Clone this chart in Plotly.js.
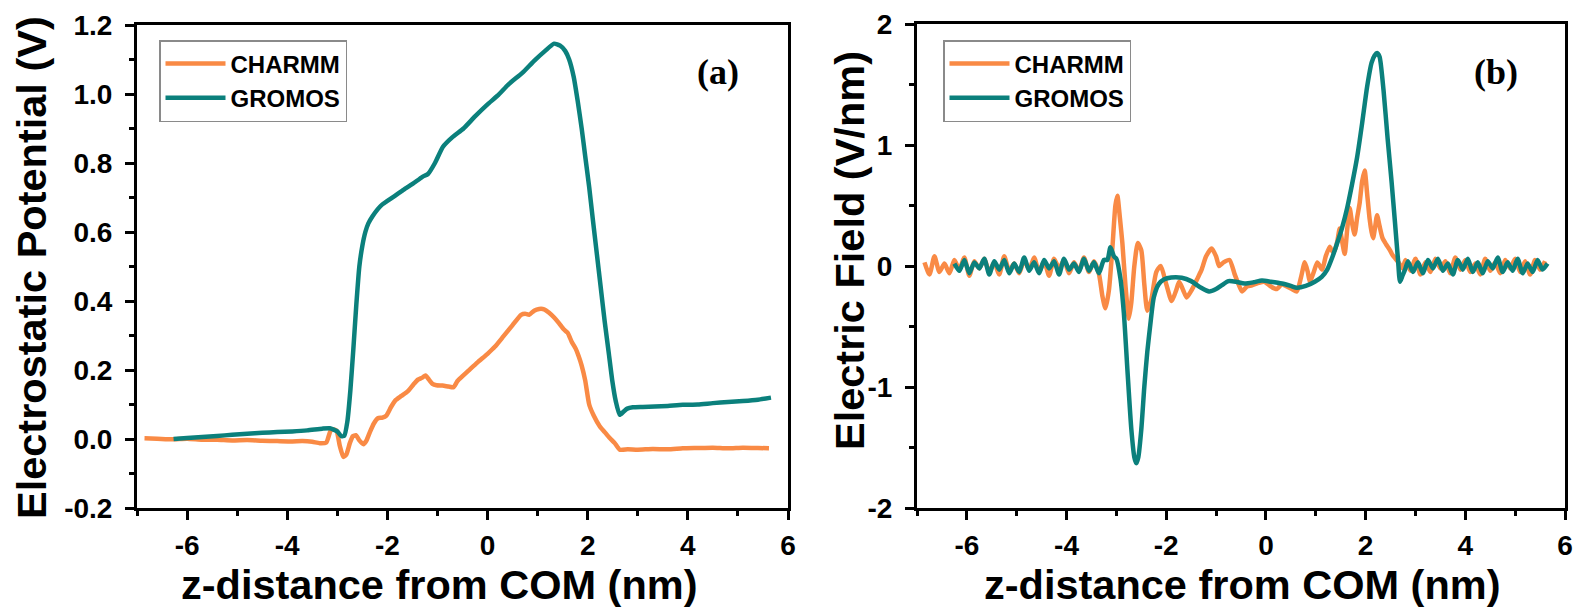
<!DOCTYPE html>
<html>
<head>
<meta charset="utf-8">
<script src="https://cdn.plot.ly/plotly-3.0.1.min.js"></script>
<style>html,body{margin:0;padding:0;background:#fff;}#chart{width:1578px;height:609px;}</style>
</head>
<body>
<div id="chart"></div>
<script>
// ---------- Panel (a): electrostatic potential ----------
const potCharmmX = [-6.85,-6.6,-6.3,-6.0,-5.7,-5.4,-5.1,-4.8,-4.5,-4.2,-3.9,-3.7,-3.5,-3.35,-3.22,-3.12,-3.02,-2.95,-2.88,-2.82,-2.75,-2.69,-2.63,-2.56,-2.48,-2.42,-2.35,-2.27,-2.19,-2.1,-2.02,-1.93,-1.84,-1.72,-1.59,-1.48,-1.39,-1.3,-1.24,-1.17,-1.1,-1.02,-0.9,-0.78,-0.68,-0.6,-0.5,-0.38,-0.2,0,0.15,0.32,0.5,0.67,0.75,0.83,0.93,1.03,1.13,1.23,1.33,1.43,1.52,1.6,1.68,1.76,1.82,1.88,1.95,2.03,2.12,2.24,2.34,2.44,2.54,2.64,2.8,3.0,3.3,3.6,3.9,4.2,4.5,4.8,5.1,5.4,5.62];
const potCharmmY = [0.002,0.001,-0.001,0.001,-0.002,-0.002,-0.004,-0.003,-0.005,-0.006,-0.007,-0.006,-0.008,-0.012,-0.010,0.028,0.025,-0.02,-0.052,-0.045,-0.012,0.008,0.011,-0.004,-0.015,-0.005,0.020,0.045,0.060,0.062,0.068,0.092,0.112,0.125,0.139,0.158,0.172,0.178,0.184,0.172,0.160,0.156,0.155,0.152,0.150,0.168,0.182,0.198,0.222,0.247,0.268,0.298,0.330,0.360,0.363,0.360,0.372,0.377,0.376,0.366,0.352,0.335,0.318,0.308,0.282,0.262,0.240,0.213,0.170,0.100,0.068,0.037,0.020,0.003,-0.012,-0.031,-0.030,-0.031,-0.029,-0.030,-0.027,-0.026,-0.025,-0.027,-0.025,-0.026,-0.027];
const potGromosX = [-6.27,-6.0,-5.7,-5.4,-5.1,-4.8,-4.5,-4.2,-3.9,-3.6,-3.3,-3.15,-3.0,-2.92,-2.86,-2.8,-2.74,-2.68,-2.62,-2.56,-2.5,-2.44,-2.38,-2.3,-2.2,-2.1,-2.0,-1.85,-1.7,-1.49,-1.3,-1.19,-1.05,-0.89,-0.7,-0.48,-0.25,0,0.2,0.42,0.7,0.93,1.15,1.33,1.45,1.55,1.63,1.72,1.8,1.88,1.95,2.03,2.1,2.18,2.26,2.34,2.42,2.49,2.56,2.64,2.72,2.79,2.9,3.1,3.34,3.6,3.9,4.2,4.5,4.8,5.1,5.4,5.66];
const potGromosY = [0.0,0.003,0.006,0.009,0.012,0.015,0.018,0.02,0.022,0.025,0.03,0.031,0.022,0.008,0.01,0.05,0.14,0.26,0.39,0.50,0.56,0.60,0.625,0.645,0.665,0.68,0.69,0.705,0.72,0.74,0.76,0.768,0.80,0.847,0.875,0.90,0.935,0.97,0.995,1.028,1.062,1.096,1.125,1.146,1.14,1.125,1.10,1.05,0.98,0.90,0.82,0.73,0.64,0.54,0.44,0.34,0.25,0.17,0.11,0.07,0.08,0.088,0.092,0.093,0.094,0.096,0.099,0.10,0.104,0.107,0.110,0.114,0.12];

// ---------- Panel (b): electric field ----------
const fieldCharmmX = [-6.85,-6.75,-6.65,-6.55,-6.45,-6.35,-6.25,-6.15,-6.05,-5.95,-5.85,-5.75,-5.65,-5.55,-5.45,-5.35,-5.25,-5.15,-5.05,-4.95,-4.85,-4.75,-4.65,-4.55,-4.45,-4.35,-4.25,-4.15,-4.05,-3.95,-3.85,-3.75,-3.65,-3.55,-3.45,
  -3.35,-3.28,-3.22,-3.15,-3.08,-3.02,-2.98,-2.93,-2.88,-2.82,-2.75,-2.7,-2.64,-2.57,-2.5,-2.44,-2.38,-2.3,-2.2,-2.11,-2.0,-1.89,-1.8,-1.74,-1.66,-1.59,-1.52,-1.44,-1.37,-1.29,-1.2,-1.09,-1.0,-0.94,-0.85,-0.73,-0.63,-0.55,-0.48,-0.38,-0.28,-0.15,-0.03,0.1,0.22,0.32,0.42,0.52,0.62,0.7,0.78,0.84,0.88,0.96,1.03,1.08,1.13,1.2,1.28,1.33,1.38,1.43,1.48,1.53,1.58,1.63,1.68,1.73,1.78,1.83,1.88,1.93,1.98,2.03,2.08,2.12,2.15,2.19,2.23,2.28,2.34,2.41,2.49,2.54,2.59,2.66,2.74,
  2.8,2.9,3.0,3.1,3.2,3.3,3.4,3.5,3.6,3.7,3.8,3.9,4.0,4.1,4.2,4.3,4.4,4.5,4.6,4.7,4.8,4.9,5.0,5.1,5.2,5.3,5.4,5.5,5.6];
const fieldCharmmY = [0.03,-0.07,0.08,-0.05,0.02,-0.06,0.05,-0.03,0.07,-0.08,0.04,-0.02,0.06,-0.05,0.03,-0.07,0.08,-0.04,0.02,-0.06,0.05,-0.03,0.07,-0.05,0.04,-0.08,0.06,-0.02,0.05,-0.06,0.03,-0.04,0.07,-0.05,0.04,
  -0.065,-0.25,-0.35,-0.2,0.15,0.5,0.58,0.4,0.19,-0.15,-0.435,-0.3,0.0,0.19,0.13,-0.15,-0.37,-0.28,-0.05,0.0,-0.15,-0.29,-0.2,-0.13,-0.2,-0.26,-0.22,-0.16,-0.1,-0.03,0.08,0.145,0.08,0.0,0.03,0.05,-0.065,-0.15,-0.21,-0.17,-0.16,-0.14,-0.13,-0.17,-0.19,-0.15,-0.17,-0.19,-0.21,-0.1,0.03,-0.05,-0.13,-0.05,0.03,0.0,-0.03,0.08,0.16,0.12,0.13,0.2,0.31,0.2,0.1,0.3,0.48,0.35,0.26,0.4,0.52,0.7,0.79,0.6,0.39,0.28,0.23,0.32,0.42,0.33,0.23,0.18,0.13,0.09,0.065,0.03,-0.02,
  0.05,-0.04,0.06,-0.07,0.03,-0.05,0.06,-0.02,0.04,-0.06,0.07,-0.03,0.05,-0.05,0.02,-0.07,0.06,-0.04,0.03,-0.06,0.05,-0.02,0.06,-0.05,0.04,-0.07,0.05,-0.03,0.04];
const fieldGromosX = [-6.25,-6.15,-6.05,-5.95,-5.85,-5.75,-5.65,-5.55,-5.45,-5.35,-5.25,-5.15,-5.05,-4.95,-4.85,-4.75,-4.65,-4.55,-4.45,-4.35,-4.25,-4.15,-4.05,-3.95,-3.85,-3.75,-3.65,-3.55,-3.45,-3.35,-3.25,
  -3.18,-3.12,-3.05,-3.0,-2.92,-2.85,-2.78,-2.7,-2.64,-2.6,-2.56,-2.5,-2.44,-2.38,-2.31,-2.25,-2.15,-2.04,-1.9,-1.69,-1.5,-1.3,-1.14,-1.0,-0.89,-0.75,-0.6,-0.43,-0.25,-0.08,0.1,0.32,0.5,0.62,0.8,0.98,1.12,1.23,1.33,1.43,1.53,1.63,1.73,1.83,1.93,2.03,2.12,2.18,2.23,2.28,2.36,2.44,2.52,2.59,2.65,2.69,2.74,2.79,
  2.85,2.95,3.05,3.15,3.25,3.35,3.45,3.55,3.65,3.75,3.85,3.95,4.05,4.15,4.25,4.35,4.45,4.55,4.65,4.75,4.85,4.95,5.05,5.15,5.25,5.35,5.45,5.55,5.65];
const fieldGromosY = [0.02,-0.04,0.05,-0.06,0.03,-0.02,0.06,-0.07,0.04,-0.03,0.05,-0.06,0.02,-0.05,0.07,-0.04,0.03,-0.06,0.05,-0.02,0.04,-0.07,0.06,-0.03,0.02,-0.05,0.06,-0.04,0.03,-0.06,0.05,
  0.05,0.155,0.08,0.06,-0.1,-0.39,-0.85,-1.35,-1.58,-1.63,-1.58,-1.35,-1.0,-0.71,-0.45,-0.26,-0.15,-0.11,-0.095,-0.097,-0.125,-0.18,-0.21,-0.19,-0.16,-0.125,-0.13,-0.145,-0.135,-0.12,-0.13,-0.145,-0.165,-0.18,-0.165,-0.13,-0.09,-0.03,0.07,0.19,0.32,0.48,0.68,0.9,1.18,1.48,1.68,1.74,1.76,1.73,1.45,1.06,0.7,0.355,0.05,-0.13,-0.08,-0.03,
  0.04,-0.05,0.03,-0.06,0.05,-0.02,0.06,-0.04,0.02,-0.07,0.05,-0.03,0.06,-0.05,0.03,-0.06,0.04,-0.02,0.07,-0.05,0.03,-0.04,0.06,-0.06,0.02,-0.05,0.05,-0.03,0.02];

// ---------- Tick labels & texts ----------
const xTickVals = [-6,-4,-2,0,2,4,6];
const xTickText = ['-6','-4','-2','0','2','4','6'];
const yTickValsA = [-0.2,0,0.2,0.4,0.6,0.8,1.0,1.2];
const yTickTextA = ['-0.2','0.0','0.2','0.4','0.6','0.8','1.0','1.2'];
const yTickValsB = [-2,-1,0,1,2];
const yTickTextB = ['-2','-1','0','1','2'];
const seriesNames = ['CHARMM','GROMOS'];
const xTitle = 'z-distance from COM (nm)';
const yTitleA = 'Electrostatic Potential (V)';
const yTitleB = 'Electric Field (V/nm)';
const panelLabels = ['(a)','(b)'];

const colOrange = '#F98A45';
const colTeal = '#0B807C';

const W = 1578, H = 609;
const px = v => v / W;
const py = v => 1 - v / H;
const bold = arr => arr.map(s => '<b>' + s + '</b>');

const traces = [
  {x: potCharmmX, y: potCharmmY, name: seriesNames[0], mode:'lines', line:{color:colOrange, width:4.5, shape:'spline', smoothing:0.5}, xaxis:'x', yaxis:'y', legend:'legend'},
  {x: potGromosX, y: potGromosY, name: seriesNames[1], mode:'lines', line:{color:colTeal, width:4.5, shape:'spline', smoothing:0.5}, xaxis:'x', yaxis:'y', legend:'legend'},
  {x: fieldCharmmX, y: fieldCharmmY, name: seriesNames[0], mode:'lines', line:{color:colOrange, width:4.5, shape:'spline', smoothing:0.6}, xaxis:'x2', yaxis:'y2', legend:'legend2'},
  {x: fieldGromosX, y: fieldGromosY, name: seriesNames[1], mode:'lines', line:{color:colTeal, width:4.5, shape:'spline', smoothing:0.6}, xaxis:'x2', yaxis:'y2', legend:'legend2'}
];

const FAM = 'Liberation Sans, Arial, sans-serif';
function tickFont() { return {family:FAM, size:28, weight:700, color:'#000'}; }
function titleFont() { return {family:FAM, size:41.5, weight:700, color:'#000'}; }

function xAxis(domain, anchor) {
  return {
    domain: domain, anchor: anchor, range: [-7, 6],
    tickmode:'array', tickvals: xTickVals, ticktext: bold(xTickText),
    ticks:'outside', ticklen:9, tickwidth:3, tickcolor:'#000',
    minor:{tickmode:'linear', tick0:0, dtick:1, ticks:'outside', ticklen:5, tickwidth:3, tickcolor:'#000', showgrid:false},
    showline:true, linewidth:3, linecolor:'#000', mirror:true,
    showgrid:false, zeroline:false, tickfont: tickFont(), ticklabelstandoff: 1,
    automargin:false
  };
}
function yAxis(domain, anchor, range, vals, text, minorDtick) {
  return {
    domain: domain, anchor: anchor, range: range,
    tickmode:'array', tickvals: vals, ticktext: bold(text),
    ticks:'outside', ticklen:9, tickwidth:3, tickcolor:'#000',
    minor:{tickmode:'linear', tick0:0, dtick:minorDtick, ticks:'outside', ticklen:5, tickwidth:3, tickcolor:'#000', showgrid:false},
    showline:true, linewidth:3, linecolor:'#000', mirror:true,
    showgrid:false, zeroline:false, tickfont: tickFont(), ticklabelstandoff: 7,
    automargin:false
  };
}

function legendBase(xp) {
  return {
    x: px(xp), y: py(40),
    xanchor:'left', yanchor:'top', bgcolor:'#fff', bordercolor:'#8a8a8a', borderwidth:1.5,
    font:{family:FAM, size:24, weight:700, color:'#000'},
    itemwidth:60, tracegroupgap:0
  };
}

const labelFont = {family:'Liberation Serif, Times New Roman, serif', size:36, weight:700, color:'#000'};
function textAnn(text, xp, yp, angle, font) {
  return {text:'<b>' + text + '</b>', xref:'paper', yref:'paper', x:px(xp), y:py(yp), showarrow:false,
          xanchor:'center', yanchor:'middle', textangle:angle, font:font};
}

const layout = {
  width: W, height: H,
  margin:{l:0, r:0, t:0, b:0},
  paper_bgcolor:'#fff', plot_bgcolor:'#fff',
  showlegend:true,
  xaxis: xAxis([px(137), px(788)], 'y'),
  yaxis: yAxis([1 - 508/H, 1 - 25/H], 'x', [-0.2, 1.2], yTickValsA, yTickTextA, 0.1),
  xaxis2: xAxis([px(917), px(1565)], 'y2'),
  yaxis2: yAxis([1 - 508/H, 1 - 24/H], 'x2', [-2, 2], yTickValsB, yTickTextB, 0.5),
  legend: legendBase(159),
  legend2: legendBase(943),
  annotations: [
    textAnn(xTitle, 439, 584, 0, titleFont()),
    textAnn(xTitle, 1242, 584, 0, titleFont()),
    textAnn(yTitleA, 31, 268, -90, titleFont()),
    textAnn(yTitleB, 849, 251, -90, titleFont()),
    textAnn(panelLabels[0], 718, 72, 0, labelFont),
    textAnn(panelLabels[1], 1496, 72, 0, labelFont)
  ]
};

Plotly.newPlot('chart', traces, layout, {displayModeBar:false, staticPlot:true});
</script>
</body>
</html>
